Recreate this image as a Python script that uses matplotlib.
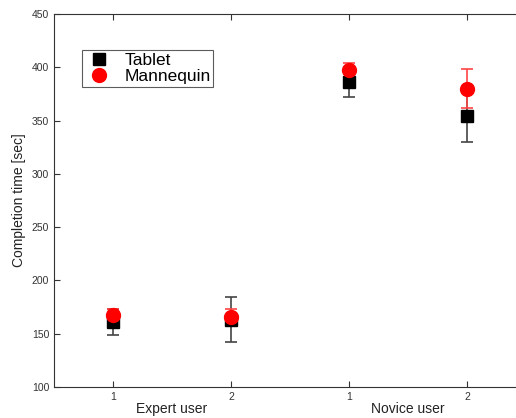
import matplotlib.pyplot as plt
from matplotlib.lines import Line2D

plt.rcParams['font.family'] = ['Liberation Sans', 'DejaVu Sans']

# positions of the four conditions (expert 1, 2, novice 1, 2)
positions = [1, 2, 3, 4]
tick_labels = ['1', '2', '1', '2']
group_labels = ['Expert user', 'Novice user']

tablet_mean = [161, 163, 386, 354]
tablet_err = [12, 21, 14, 24]
mannequin_mean = [168, 166, 397, 380]
mannequin_err = [5, 7, 7, 18]

fig = plt.figure(figsize=(5.16, 4.18), dpi=100)
ax = fig.add_axes([54 / 516, 31 / 418, 472 / 516, 373 / 418])

ax.errorbar(positions, tablet_mean, yerr=tablet_err, fmt='s', color='black',
            ecolor='#444444', elinewidth=1.2, capsize=4, capthick=1.2,
            markersize=8)
ax.errorbar(positions, mannequin_mean, yerr=mannequin_err, fmt='o', color='red',
            ecolor='#ff4444', elinewidth=1.2, capsize=4, capthick=1.2,
            markersize=10)

ax.set_xlim(0.5, 4.5)
ax.set_ylim(100, 450)
ax.set_xticks(positions)
ax.set_xticklabels(tick_labels)
ax.set_yticks(range(100, 451, 50))
ax.tick_params(direction='in', top=True, right=False, labelsize=7.5,
               labelcolor='#333333', color='#333333', length=4)
for side in ['left', 'bottom', 'top']:
    ax.spines[side].set_color('#333333')
ax.spines['right'].set_visible(False)

ax.set_ylabel('Completion time [sec]', fontsize=10, color='#222222', labelpad=4)
for i, name in enumerate(group_labels):
    ax.text(1.5 + 2 * i, -0.04, name, transform=ax.get_xaxis_transform(),
            ha='center', va='top', fontsize=10, color='#222222')

# marker-only legend entries
handles = [
    Line2D([], [], marker='s', color='black', linestyle='none', markersize=8),
    Line2D([], [], marker='o', color='red', linestyle='none', markersize=10),
]
leg = ax.legend(handles, ['Tablet', 'Mannequin'], loc='upper left',
                bbox_to_anchor=(0.059, 0.903), borderaxespad=0, fontsize=12.5,
                frameon=True, fancybox=False, edgecolor='#333333',
                handletextpad=0.6, borderpad=0.15, labelspacing=0.08,
                handlelength=1.7)
leg.get_frame().set_linewidth(0.8)

fig.savefig('out.png', dpi=100)
